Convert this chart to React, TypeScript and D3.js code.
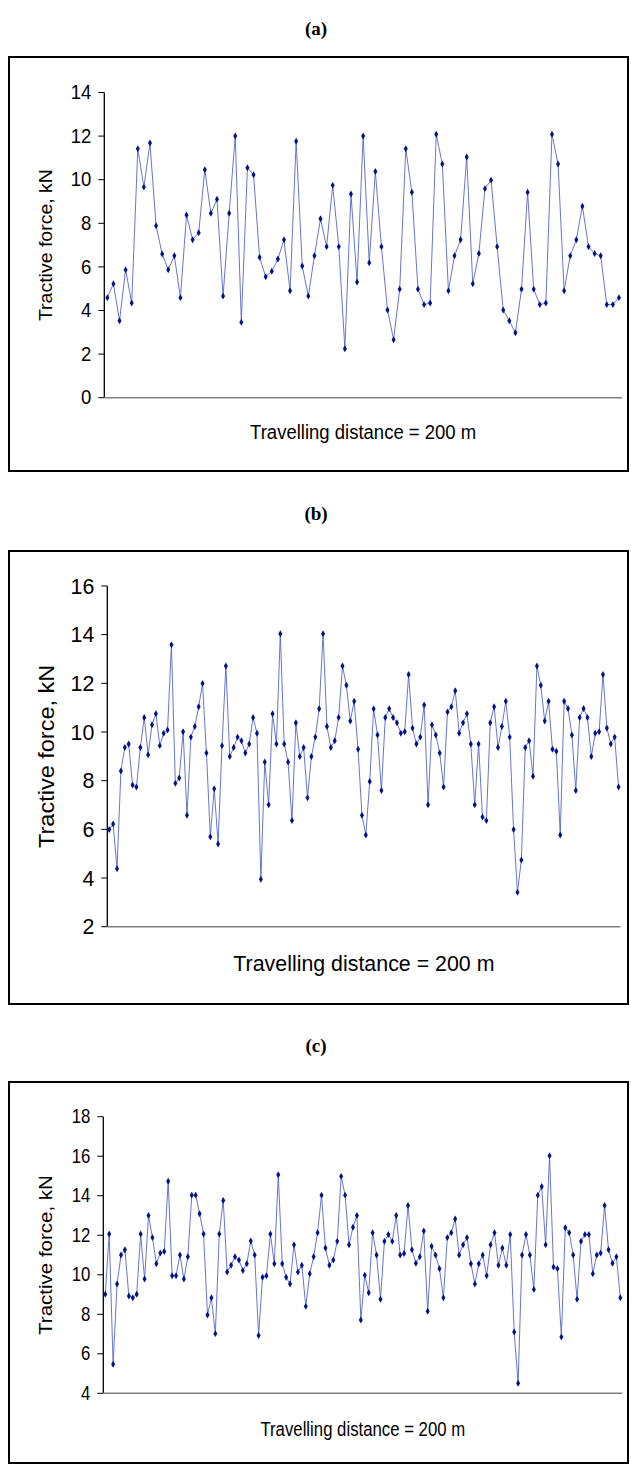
import React from "react";
import * as d3 from "d3";

const forceA: number[] = [
  4.59, 5.23, 3.53, 5.87, 4.34, 11.42, 9.66, 11.68, 7.89, 6.59,
  5.87, 6.51, 4.59, 8.38, 7.25, 7.57, 10.46, 8.46, 9.1, 4.66,
  8.46, 12.0, 3.46, 10.55, 10.23, 6.44, 5.55, 5.8, 6.36, 7.25,
  4.91, 11.76, 6.04, 4.66, 6.51, 8.21, 6.93, 9.74, 6.93, 2.25,
  9.34, 5.31, 12.0, 6.19, 10.38, 6.93, 4.02, 2.66, 4.98, 11.42,
  9.42, 4.98, 4.27, 4.34, 12.08, 10.72, 4.91, 6.51, 7.25, 11.04,
  5.23, 6.61, 9.59, 9.98, 6.93, 4.02, 3.53, 2.98, 4.98, 9.42,
  4.98, 4.27, 4.34, 12.08, 10.72, 4.91, 6.51, 7.25, 8.78, 6.93,
  6.61, 6.51, 4.27, 4.27, 4.59,
];

const forceB: number[] = [
  5.99, 6.22, 4.38, 8.4, 9.36, 9.51, 7.82, 7.74, 9.36, 10.6,
  9.07, 10.3, 10.75, 9.44, 9.95, 10.08, 13.59, 7.89, 8.11, 10.01,
  6.58, 9.79, 10.23, 11.04, 11.99, 9.14, 5.7, 7.67, 5.4, 9.44,
  12.71, 8.99, 9.36, 9.79, 9.64, 9.14, 9.51, 10.6, 9.95, 3.95,
  8.77, 7.01, 10.75, 9.51, 14.04, 9.51, 8.77, 6.36, 10.38, 8.99,
  9.36, 7.3, 8.99, 9.79, 10.96, 14.04, 10.23, 9.36, 9.64, 10.6,
  12.71, 11.92, 10.45, 11.26, 9.29, 6.58, 5.77, 7.97, 10.96, 9.88,
  7.6, 10.6, 10.96, 10.6, 10.38, 9.95, 10.01, 12.36, 10.16, 9.51,
  9.79, 11.11, 7.01, 10.3, 9.88, 9.14, 7.74, 10.82, 11.04, 11.7,
  9.95, 10.38, 10.75, 9.51, 7.01, 9.51, 6.51, 6.36, 10.38, 11.04,
  9.36, 10.23, 11.26, 9.79, 5.99, 3.42, 4.74, 9.36, 9.64, 8.18,
  12.71, 11.92, 10.45, 11.26, 9.29, 9.21, 5.77, 11.26, 10.97, 9.88,
  7.6, 10.6, 10.97, 10.6, 8.99, 9.95, 10.01, 12.36, 10.16, 9.51,
  9.79, 7.74,
];

const forceC: number[] = [
  9.01, 12.06, 5.47, 9.53, 11.0, 11.27, 8.92, 8.84, 9.01, 12.06,
  9.78, 13.0, 11.88, 10.56, 11.1, 11.18, 14.73, 9.95, 9.95, 11.0,
  9.78, 10.91, 14.03, 14.03, 13.09, 12.06, 7.96, 8.84, 7.02, 12.06,
  13.76, 10.14, 10.48, 10.91, 10.75, 10.22, 10.56, 11.71, 11.0, 6.93,
  9.87, 9.95, 12.06, 10.56, 15.06, 10.56, 9.87, 9.53, 11.52, 10.14,
  10.48, 8.4, 10.05, 10.91, 12.13, 14.03, 11.35, 10.48, 10.75, 11.69,
  14.98, 14.03, 11.52, 12.4, 13.0, 7.71, 9.97, 9.09, 12.13, 11.0,
  8.76, 11.69, 12.04, 11.69, 13.0, 11.0, 11.08, 13.51, 11.27, 10.58,
  10.91, 12.21, 8.15, 11.44, 11.0, 10.31, 8.84, 11.88, 12.13, 12.82,
  11.0, 11.52, 11.88, 10.56, 9.53, 10.56, 11.0, 9.95, 11.52, 12.13,
  10.48, 11.35, 10.48, 12.04, 7.1, 4.51, 11.0, 12.04, 11.0, 9.26,
  14.03, 14.47, 11.52, 16.02, 10.39, 10.31, 6.85, 12.38, 12.13, 11.0,
  8.76, 11.69, 12.04, 12.04, 10.05, 11.0, 11.1, 13.51, 11.27, 10.58,
  10.91, 8.84,
];

const panelTitles: string[] = ["(a)", "(b)", "(c)"];
const yDomains: [number, number][] = [[0, 14], [2, 16], [4, 18]];
const tickStep = 2;
const xAxisLabel = "Travelling distance = 200 m";
const yAxisLabel = "Tractive force, kN";

const SANS = "'Liberation Sans', Arial, Helvetica, sans-serif";
const SERIF = "'Liberation Serif', 'Times New Roman', serif";

interface PanelProps {
  data: number[];
  title: string;
  domain: [number, number];
  titleY: number;
  frame: { x: number; y: number; w: number; h: number };
  plot: { left: number; right: number; top: number; bottom: number };
  font: number;
  squeeze: number;
  yLabelFont: number;
  xLabelY: number;
  yLabelX: number;
}

function Panel({
  data,
  title,
  domain,
  titleY,
  frame,
  plot,
  font,
  squeeze,
  yLabelFont,
  xLabelY,
  yLabelX,
}: PanelProps) {
  const x = d3
    .scaleBand<number>()
    .domain(data.map((_, i) => i))
    .range([plot.left, plot.right])
    .padding(0);
  const y = d3.scaleLinear().domain(domain).range([plot.bottom, plot.top]);
  const cx = (i: number) => (x(i) as number) + x.bandwidth() / 2;
  const line = d3
    .line<number>()
    .x((_, i) => cx(i))
    .y((d) => y(d));
  const ticks = d3.range(domain[0], domain[1] + 0.001, tickStep);
  const diamond = d3.symbol(d3.symbolDiamond, 14)() as string;
  const midY = (plot.top + plot.bottom) / 2;
  const midX = (plot.left + plot.right) / 2;

  return (
    <g>
      <text
        x={316}
        y={titleY}
        textAnchor="middle"
        dominantBaseline="central"
        fontFamily={SERIF}
        fontWeight="bold"
        fontSize={19}
        fill="#000"
      >
        {title}
      </text>
      <rect
        x={frame.x}
        y={frame.y}
        width={frame.w}
        height={frame.h}
        fill="#fff"
        stroke="#000"
        strokeWidth={2}
      />
      {ticks.map((t) => (
        <g key={t}>
          <line x1={plot.left - 6} x2={plot.left} y1={y(t)} y2={y(t)} stroke="#000" strokeWidth={1} />
          <text
            transform={`translate(${plot.left - 13},${y(t)}) scale(${squeeze},1)`}
            textAnchor="end"
            dominantBaseline="central"
            fontFamily={SANS}
            fontSize={font}
            fill="#000"
          >
            {t}
          </text>
        </g>
      ))}
      <line x1={plot.left} x2={plot.left} y1={plot.top} y2={plot.bottom} stroke="#000" strokeWidth={1.3} />
      <line x1={plot.left} x2={plot.right} y1={plot.bottom} y2={plot.bottom} stroke="#808080" strokeWidth={1.6} />
      <path d={line(data) as string} fill="none" stroke="#5566c8" strokeWidth={0.9} />
      {data.map((d, i) => (
        <path key={i} d={diamond} transform={`translate(${cx(i)},${y(d)})`} fill="#00128c" />
      ))}
      <text
        transform={`translate(${midX},${xLabelY}) scale(${squeeze},1)`}
        textAnchor="middle"
        dominantBaseline="central"
        fontFamily={SANS}
        fontSize={font}
        fill="#000"
      >
        {xAxisLabel}
      </text>
      <text
        transform={`translate(${yLabelX},${midY}) rotate(-90) scale(1,${squeeze})`}
        textAnchor="middle"
        dominantBaseline="central"
        fontFamily={SANS}
        fontSize={yLabelFont}
        fill="#000"
      >
        {yAxisLabel}
      </text>
    </g>
  );
}

export default function App() {
  return (
    <svg
      width={631}
      height={1469}
      viewBox="0 0 631 1469"
      style={{ position: "absolute", left: 0, top: 0, display: "block", background: "#fff" }}
    >
      <rect x={0} y={0} width={631} height={1469} fill="#fff" />
      <Panel
        data={forceA}
        title={panelTitles[0]}
        domain={yDomains[0]}
        titleY={28}
        frame={{ x: 9, y: 57, w: 619, h: 414 }}
        plot={{ left: 104.3, right: 622, top: 92.5, bottom: 397.7 }}
        font={19.5}
        squeeze={0.95}
        yLabelFont={19.5}
        xLabelY={432}
        yLabelX={46}
      />
      <Panel
        data={forceB}
        title={panelTitles[1]}
        domain={yDomains[1]}
        titleY={513}
        frame={{ x: 9, y: 551, w: 619, h: 453 }}
        plot={{ left: 107.3, right: 620.5, top: 586, bottom: 926.7 }}
        font={22.5}
        squeeze={0.95}
        yLabelFont={23.5}
        xLabelY={963}
        yLabelX={46}
      />
      <Panel
        data={forceC}
        title={panelTitles[2]}
        domain={yDomains[2]}
        titleY={1045}
        frame={{ x: 9, y: 1082, w: 619, h: 381 }}
        plot={{ left: 103.3, right: 622.3, top: 1116.7, bottom: 1393.3 }}
        font={19.5}
        squeeze={0.86}
        yLabelFont={20.5}
        xLabelY={1430}
        yLabelX={46}
      />
    </svg>
  );
}
